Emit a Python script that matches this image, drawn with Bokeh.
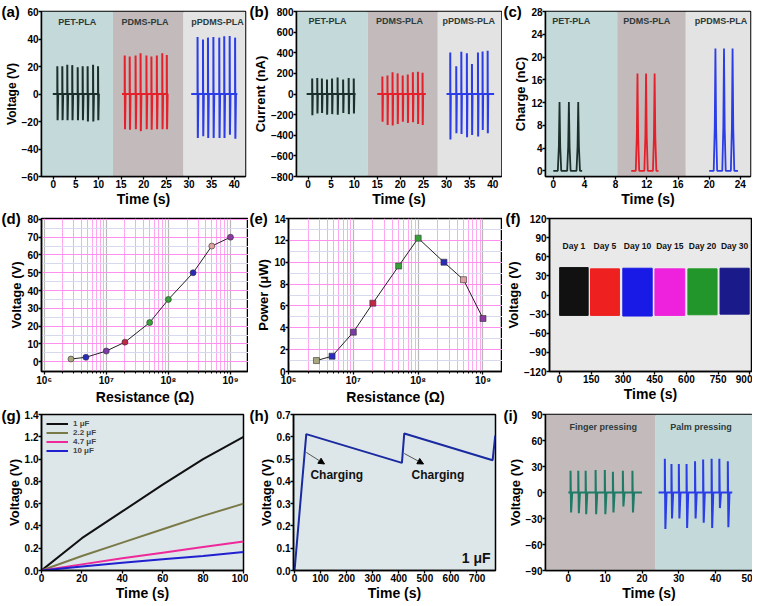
from bokeh.plotting import figure
from bokeh.models import (Range1d, Title, FixedTicker, BoxAnnotation, Arrow, NormalHead,
                          CustomJSTickFormatter, NumeralTickFormatter)
from bokeh.layouts import column, row
from bokeh.embed import file_html
from bokeh.resources import INLINE
from bokeh.core.properties import value

FONT = "Liberation Sans"

# ---------------- data ----------------
# (a) voltage
a_region_names = ["PET-PLA", "PDMS-PLA", "pPDMS-PLA"]
a_region_bounds = [13.2, 28.8]
a_label_x = [5.3, 20.3, 36.3]
a_pet_t = [0.9, 2.0, 3.1, 4.2, 5.4, 6.5, 7.6, 8.8, 9.9]
a_pet_pk = [20.1, 20.1, 21.3, 21.0, 19.4, 20.1, 20.1, 21.3, 20.1]
a_pet_tr = [-19, -19, -19, -19, -19, -19, -20, -20, -19]
a_pdms_t = [15.8, 16.9, 18.2, 19.3, 20.6, 21.7, 22.9, 24.1, 25.1]
a_pdms_pk = [28.0, 27.3, 28.0, 29.6, 28.0, 27.3, 28.0, 29.6, 28.4]
a_pdms_tr = [-25.6, -26, -25.6, -27, -25.6, -26, -25.6, -25.6, -25.6]
a_ppdms_t = [31.9, 33.1, 34.2, 35.4, 36.7, 37.8, 39.0, 40.2]
a_ppdms_pk = [41.5, 39.6, 41.0, 41.5, 41.0, 42.0, 42.2, 41.0]
a_ppdms_tr = [-32, -30.8, -32, -32, -32, -32, -29.6, -32.5]
a_spans = [(-0.1, 10.2), (15.2, 25.4), (30.5, 40.7)]

# (b) current
b_region_bounds = [12.9, 28.1]
b_label_x = [4.2, 19.8, 34.8]
b_pet_t = [0.9, 2.0, 3.0, 4.1, 5.2, 6.4, 7.6, 8.8, 9.9]
b_pet_pk = [150, 155, 150, 140, 150, 160, 140, 155, 150]
b_pet_tr = [-205, -190, -185, -200, -195, -200, -185, -195, -190]
b_pdms_t = [16.1, 17.2, 18.3, 19.4, 20.5, 21.6, 22.7, 23.8, 24.8]
b_pdms_pk = [170, 180, 210, 200, 180, 190, 210, 215, 205]
b_pdms_tr = [-270, -300, -305, -290, -270, -280, -275, -290, -300]
b_ppdms_t = [30.8, 32.1, 33.2, 34.4, 35.5, 36.8, 37.8, 38.9]
b_ppdms_pk = [403, 268, 410, 394, 290, 403, 413, 419]
b_ppdms_tr = [-442, -381, -387, -419, -397, -413, -348, -381]
b_spans = [(-0.3, 10.3), (15.0, 25.5), (30.0, 40.3)]

# (c) charge
c_region_bounds = [8.2, 17.0]
c_label_x = [2.3, 12.0, 21.5]
c_pet_t = [0.8, 2.0, 3.2]
c_pet_q = [12.1, 12.1, 12.1]
c_pdms_t = [10.8, 11.9, 13.0]
c_pdms_q = [17.1, 17.1, 17.1]
c_ppdms_t = [20.8, 21.9, 23.0]
c_ppdms_q = [21.5, 21.5, 21.5]
c_spans = [(0.0, 3.7), (10.0, 13.5), (20.0, 23.7)]

# (d)/(e) load resistance
resistance = [2.7e6, 4.7e6, 1e7, 2e7, 5e7, 1e8, 2.5e8, 5e8, 1e9]
d_voltage = [1.5, 2.5, 6, 11, 22, 35, 50, 65, 70]
e_power = [1.0, 1.4, 3.6, 6.25, 9.65, 12.2, 10.0, 8.4, 4.85]
point_colors = ["#a8a880", "#2a2ac0", "#7a3aa8", "#c02848", "#38a038",
                "#38a038", "#2a2ab8", "#e0a0a0", "#8a3aa0"]

# (f) stability
f_days = ["Day 1", "Day 5", "Day 10", "Day 15", "Day 20", "Day 30"]
f_start = [0, 146, 299, 451, 607, 759]
f_end = [135, 283, 438, 592, 745, 897]
f_top = [43, 41, 42, 41, 41, 42]
f_bottom = [-32, -32, -33, -32, -31, -30]
f_colors = ["#111111", "#ee2020", "#1a1ae6", "#ee22dd", "#22962a", "#1a1a8a"]

# (g) capacitor charging
g_time = [0, 20, 40, 60, 80, 100]
g_1uF = [0, 0.29, 0.53, 0.77, 1.0, 1.2]
g_2_2uF = [0, 0.13, 0.25, 0.37, 0.49, 0.6]
g_4_7uF = [0, 0.055, 0.11, 0.16, 0.21, 0.26]
g_10uF = [0, 0.035, 0.07, 0.10, 0.13, 0.165]

# (h) charge / discharge
h_time = [0, 45, 412, 421, 760, 770]
h_voltage = [0, 0.612, 0.483, 0.615, 0.495, 0.605]

# (i) finger / palm
i_region_bound = 23.7
i_finger_t = [0.6, 2.7, 4.7, 7.4, 9.9, 12.1, 14.8, 17.4]
i_finger_pk = [25, 25, 25, 26, 26, 24, 25, 25]
i_finger_tr = [-23, -24, -25, -25, -25, -23, -16, -23]
i_palm_t = [26.2, 28.0, 30.0, 32.1, 34.4, 36.6, 38.9, 41.0, 43.3]
i_palm_pk = [39, 33, 33, 33, 36, 38, 39, 39, 36]
i_palm_tr = [-42, -30, -30, -41, -30, -35, -41, -18, -40]
i_spans = [(0.0, 20.0), (24.5, 44.5)]

# ---------------- helpers ----------------
TEAL = "#c4dada"
GRAY = "#c3bbbb"
LIGHT = "#e3e3e3"
DARK = "#1c2f2b"
RED = "#e5202b"
BLUE = "#2b3de6"


def pulse_xy(span, times, peaks, troughs, dt):
    xs, ys = [span[0]], [0.0]
    for t, pk, tr in zip(times, peaks, troughs):
        xs += [t, t, t + dt, t + 3 * dt]
        ys += [0.0, pk, tr, 0.0]
    xs.append(span[1])
    ys.append(0.0)
    return xs, ys


def peak_xy(span, times, heights, w):
    xs, ys = [span[0]], [0.0]
    for t, hgt in zip(times, heights):
        xs += [t - w, t - w * 0.4, t, t + w * 0.4, t + w]
        ys += [0.0, hgt * 0.35, hgt, hgt * 0.35, 0.0]
    xs.append(span[1])
    ys.append(0.0)
    return xs, ys


def make(w, h, bl, br, bt, bb, xr, yr, xlabel, ylabel, xticks, yticks, letter,
         x_axis_type="linear", yl_fs="13px", letter_bottom=16):
    ttl = Title(text=letter, align="left", vertical_align="bottom", offset=-bl + 1,
                standoff=2 * (bt - letter_bottom), text_font=FONT, text_font_style="bold",
                text_font_size="15px", text_color="black")
    p = figure(width=w, height=h, x_range=Range1d(*xr), y_range=Range1d(*yr),
               x_axis_type=x_axis_type, output_backend="svg", toolbar_location=None,
               title=ttl, min_border_left=bl, min_border_right=br,
               min_border_top=bt, min_border_bottom=bb)
    p.outline_line_color = "black"
    p.outline_line_width = 1.5
    p.outline_line_alpha = 1
    p.grid.visible = False
    p.xaxis.axis_label = xlabel
    p.yaxis.axis_label = ylabel
    if x_axis_type != "log":
        p.xaxis.ticker = FixedTicker(ticks=xticks)
    p.yaxis.ticker = FixedTicker(ticks=yticks)
    for ax in (p.xaxis, p.yaxis):
        ax.major_label_text_font = FONT
        ax.major_label_text_font_style = "bold"
        ax.major_label_text_font_size = "10px"
        ax.major_label_text_color = "black"
        ax.axis_label_text_font = FONT
        ax.axis_label_text_font_style = "bold"
        ax.axis_label_text_color = "black"
        ax.axis_line_width = 1.5
        ax.major_tick_out = 3
        ax.major_tick_in = 0
        ax.major_tick_line_width = 1.3
        ax.minor_tick_out = 0
        ax.minor_tick_in = 0
        ax.major_label_standoff = 0
        ax.axis_label_standoff = 0
    p.xaxis.axis_label_text_font_size = "14px"
    p.yaxis.axis_label_text_font_size = yl_fs
    return p


def region_labels(p, xs, y, names, fs="9px", color="#2d3a3a"):
    p.text(x=xs, y=[y] * len(xs), text=names, text_font=value(FONT),
           text_font_style="bold", text_font_size=fs, text_align="center",
           text_baseline="middle", text_color=color)


def shade(p, xr, bounds, colors):
    lefts = [xr[0]] + list(bounds)
    rights = list(bounds) + [xr[1]]
    for l, r, c in zip(lefts, rights, colors):
        p.add_layout(BoxAnnotation(left=l, right=r, fill_color=c, fill_alpha=1,
                                   line_alpha=0, level="underlay"))


BB = 34
H1, BT1 = 11 + 165 + BB, 11
H2, BT2 = 8 + 155 + BB, 8
H3, BT3 = 7 + 156 + BB, 7
W1, W2, W3 = 248, 254, 250

# ---------------- (a) ----------------
xa = (-2.6, 42.5)
pa = make(W1, H1, 41, 3, BT1, BB, xa, (-60, 60), "Time (s)", "Voltage (V)",
          list(range(0, 45, 5)), list(range(-60, 61, 20)), "(a)", yl_fs="12px",
          letter_bottom=19)
shade(pa, xa, a_region_bounds, [TEAL, GRAY, LIGHT])
for (ts, pk, tr), sp, col in zip([(a_pet_t, a_pet_pk, a_pet_tr), (a_pdms_t, a_pdms_pk, a_pdms_tr),
                                  (a_ppdms_t, a_ppdms_pk, a_ppdms_tr)], a_spans, [DARK, RED, BLUE]):
    xs, ys = pulse_xy(sp, ts, pk, tr, 0.06)
    pa.line(xs, ys, line_color=col, line_width=2)
region_labels(pa, a_label_x, 52.6, a_region_names)

# ---------------- (b) ----------------
xb = (-2.5, 41.9)
pb = make(W2, H1, 48, 1, BT1, BB, xb, (-800, 800), "Time (s)", "Current (nA)",
          list(range(0, 45, 5)), list(range(-800, 801, 200)), "(b)", letter_bottom=19)
shade(pb, xb, b_region_bounds, [TEAL, GRAY, LIGHT])
for (ts, pk, tr), sp, col in zip([(b_pet_t, b_pet_pk, b_pet_tr), (b_pdms_t, b_pdms_pk, b_pdms_tr),
                                  (b_ppdms_t, b_ppdms_pk, b_ppdms_tr)], b_spans, [DARK, RED, BLUE]):
    xs, ys = pulse_xy(sp, ts, pk, tr, 0.04)
    pb.line(xs, ys, line_color=col, line_width=2)
region_labels(pb, b_label_x, 704, a_region_names)

# ---------------- (c) ----------------
xc = (-1.0, 25.3)
pc = make(W3, H1, 43, 2, BT1, BB, xc, (-1, 28), "Time (s)", "Charge (nC)",
          list(range(0, 25, 4)), list(range(0, 29, 4)), "(c)", letter_bottom=19)
shade(pc, xc, c_region_bounds, [TEAL, GRAY, LIGHT])
for (ts, q), sp, col in zip([(c_pet_t, c_pet_q), (c_pdms_t, c_pdms_q), (c_ppdms_t, c_ppdms_q)],
                            c_spans, [DARK, RED, BLUE]):
    xs, ys = peak_xy(sp, ts, q, 0.22)
    pc.line(xs, ys, line_color=col, line_width=1.8)
region_labels(pc, c_label_x, 26.3, a_region_names)

# ---------------- (d) & (e) ----------------
sup_fmt = CustomJSTickFormatter(code="""
const sup = {"0":"\u2070","1":"\u00b9","2":"\u00b2","3":"\u00b3","4":"\u2074","5":"\u2075","6":"\u2076","7":"\u2077","8":"\u2078","9":"\u2079"};
const e = String(Math.round(Math.log10(tick)));
return "10" + e.split("").map(c => sup[c]).join("");
""")
log_major = [1e6, 1e7, 1e8, 1e9]
log_minor = [m * 10 ** k for k in (6, 7, 8) for m in range(2, 10)]


def log_style(p, ymajor, yminor):
    p.xaxis.ticker = FixedTicker(ticks=log_major, minor_ticks=log_minor)
    p.xaxis.formatter = sup_fmt
    p.xaxis.minor_tick_out = 2
    p.yaxis.ticker = FixedTicker(ticks=ymajor, minor_ticks=yminor)
    p.grid.visible = True
    p.xgrid.grid_line_color = "#b8b8b8"
    p.xgrid.grid_line_width = 1.2
    p.xgrid.minor_grid_line_color = "#ffa8f0"
    p.xgrid.minor_grid_line_width = 1
    p.ygrid.grid_line_color = "#ff90ee"
    p.ygrid.grid_line_width = 1.2
    p.ygrid.minor_grid_line_color = "#d8d8ee"


pd_ = make(W1, H2, 41, 0, BT2, BB, (9.06e5, 1.95e9), (-5.5, 80.5), "Resistance (\u03a9)",
           "Voltage (V)", log_major, list(range(0, 81, 10)), "(d)", x_axis_type="log")
log_style(pd_, list(range(0, 81, 10)), list(range(5, 80, 10)))
pd_.line(resistance, d_voltage, line_color="#222222", line_width=1)
pd_.scatter(resistance, d_voltage, marker="circle", size=6, fill_color=point_colors,
            line_color="#333333", line_width=0.6)

pe = make(W2, H2, 40, 0, BT2, BB, (1e6, 2e9), (0, 14), "Resistance (\u03a9)",
          "Power (\u03bcW)", log_major, list(range(0, 15, 2)), "(e)", x_axis_type="log")
log_style(pe, list(range(0, 15, 2)), list(range(1, 14, 2)))
pe.line(resistance, e_power, line_color="#222222", line_width=1)
pe.scatter(resistance, e_power, marker="square", size=6, fill_color=point_colors,
           line_color="#333333", line_width=0.6)

# ---------------- (f) ----------------
pf = make(W3, H2, 45, 1, BT2, BB, (-48, 908), (-120, 120), "Time (s)", "Voltage (V)",
          list(range(0, 901, 150)), list(range(-120, 121, 30)), "(f)")
pf.background_fill_color = "#e9e9e9"
pf.quad(left=f_start, right=f_end, top=f_top, bottom=f_bottom, fill_color=f_colors,
        line_color=f_colors)
pf.text(x=[(s + e) / 2 for s, e in zip(f_start, f_end)], y=[77] * len(f_days), text=f_days,
        text_font=value(FONT), text_font_style="bold", text_font_size="8.5px",
        text_align="center", text_baseline="middle", text_color="#111111")

# ---------------- (g) ----------------
pg = make(W1, H3, 41, 5, BT3, BB, (0, 100), (0, 1.4), "Time (s)", "Voltage (V)",
          list(range(0, 101, 20)), [0, 0.2, 0.4, 0.6, 0.8, 1.0, 1.2, 1.4], "(g)")
pg.background_fill_color = "#dde6e9"
pg.yaxis.formatter = NumeralTickFormatter(format="0.0")
for ys, col, lab in zip([g_1uF, g_2_2uF, g_4_7uF, g_10uF],
                        ["#111111", "#7a7a48", "#ee2a9a", "#2020d0"],
                        ["1 \u03bcF", "2.2 \u03bcF", "4.7 \u03bcF", "10 \u03bcF"]):
    pg.line(g_time, ys, line_color=col, line_width=2, legend_label=lab)
pg.legend.location = "top_left"
pg.legend.background_fill_alpha = 0
pg.legend.border_line_alpha = 0
pg.legend.label_text_font = FONT
pg.legend.label_text_font_style = "bold"
pg.legend.label_text_font_size = "8px"
pg.legend.glyph_width = 22
pg.legend.glyph_height = 9
pg.legend.label_height = 9
pg.legend.spacing = 0
pg.legend.padding = 2
pg.legend.margin = 3

# ---------------- (h) ----------------
ph = make(W2, H3, 45, 7, BT3, BB, (-4, 771), (0, 0.7), "Time (s)", "Voltage (V)",
          list(range(0, 701, 100)), [0, 0.1, 0.2, 0.3, 0.4, 0.5, 0.6, 0.7], "(h)")
ph.background_fill_color = "#dde6e9"
ph.yaxis.formatter = NumeralTickFormatter(format="0.0")
ph.line(h_time, h_voltage, line_color="#1a2aa0", line_width=2)
for x0, y0, x1, y1 in [(45, 0.53, 115, 0.478), (421, 0.525, 495, 0.478)]:
    ph.add_layout(Arrow(end=NormalHead(size=6, fill_color="black", line_color="black"),
                        x_start=x0, y_start=y0, x_end=x1, y_end=y1,
                        line_color="#555555", line_width=1))
ph.text(x=[162, 550], y=[0.43, 0.43], text=["Charging", "Charging"], text_font=value(FONT),
        text_font_style="bold", text_font_size="12px", text_align="center",
        text_baseline="middle", text_color="#111111")
ph.text(x=[752], y=[0.02], text=["1 \u03bcF"], text_font=value(FONT),
        text_font_style="bold", text_font_size="14px", text_align="right",
        text_baseline="bottom", text_color="#111111")

# ---------------- (i) ----------------
xi = (-6.2, 50)
pi = make(W3, H3, 43, 0, BT3, BB, xi, (-90, 90), "Time (s)", "Voltage (V)",
          list(range(0, 51, 10)), list(range(-90, 91, 30)), "(i)")
shade(pi, xi, [i_region_bound], [GRAY, TEAL])
for (ts, pk, tr), sp, col in zip([(i_finger_t, i_finger_pk, i_finger_tr),
                                  (i_palm_t, i_palm_pk, i_palm_tr)], i_spans,
                                 ["#1f7a66", BLUE]):
    xs, ys = pulse_xy(sp, ts, pk, tr, 0.15)
    pi.line(xs, ys, line_color=col, line_width=2)
region_labels(pi, [9.5, 36.0], 76, ["Finger pressing", "Palm pressing"])

layout = column(row(pa, pb, pc), row(pd_, pe, pf), row(pg, ph, pi))
open("out.html", "w").write(file_html(layout, INLINE))
